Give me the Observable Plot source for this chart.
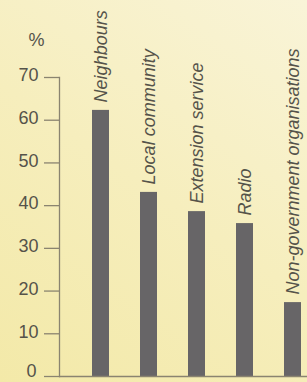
<!DOCTYPE html>
<html>
<head>
<meta charset="utf-8">
<script src="https://cdn.jsdelivr.net/npm/d3@7"></script>
<script src="https://cdn.jsdelivr.net/npm/@observablehq/plot@0.6"></script>
<style>
  html, body { margin: 0; padding: 0; }
  body {
    width: 307px; height: 382px; overflow: hidden;
    background: linear-gradient(35deg, #f3e9a8 0%, #f6eebd 50%, #f9f4d8 100%);
  }
  svg { display: block; }
</style>
</head>
<body>
<div id="chart"></div>
<script>
const categories = ["Neighbours", "Local community", "Extension service", "Radio", "Non-government organisations"];
const values = [62.3, 43.1, 38.6, 35.8, 17.3];
const yTicks = [0, 10, 20, 30, 40, 50, 60, 70];
const unitLabel = "%";

const data = categories.map((c, i) => ({category: c, value: values[i]}));

const textColor = "#55534a";
const axisColor = "#8a8470";
const barColor = "#676567";

const chart = Plot.plot({
  width: 307,
  height: 382,
  marginLeft: 59,
  marginRight: 0,
  marginTop: 77,
  marginBottom: 6,
  style: {background: "none", fontFamily: "'Liberation Sans', Arial, sans-serif", fontSize: "18px", color: textColor},
  x: {type: "band", domain: categories, range: [92, 301.4], paddingInner: 0.647, paddingOuter: 0, axis: null},
  y: {domain: [0, 70], axis: null},
  marks: [
    Plot.barY(data, {x: "category", y: "value", fill: barColor}),
    Plot.axisY({ticks: yTicks, tickSize: 15, text: null, stroke: axisColor, strokeWidth: 1.3, label: null}),
    Plot.axisY({ticks: yTicks.filter(t => t > 0), tickSize: 0, tickPadding: 21, dy: -2, fill: textColor, fontSize: 18, label: null}),
    Plot.axisY({ticks: yTicks.filter(t => t === 0), tickSize: 0, tickPadding: 23, dy: -5, fill: textColor, fontSize: 18, label: null}),
    Plot.frame({anchor: "left", stroke: axisColor, strokeWidth: 1.3}),
    Plot.ruleY([0], {stroke: axisColor, strokeWidth: 1.3}),
    Plot.text(data, {x: "category", y: "value", text: "category", rotate: -90, textAnchor: "start", lineAnchor: "middle", dy: -8, fontStyle: "italic", fontSize: 18, fill: textColor}),
    Plot.text([unitLabel], {frameAnchor: "top-left", dx: -31, dy: -44, text: d => d, fontSize: 18, fill: textColor})
  ]
});
document.getElementById("chart").appendChild(chart);
</script>
</body>
</html>
